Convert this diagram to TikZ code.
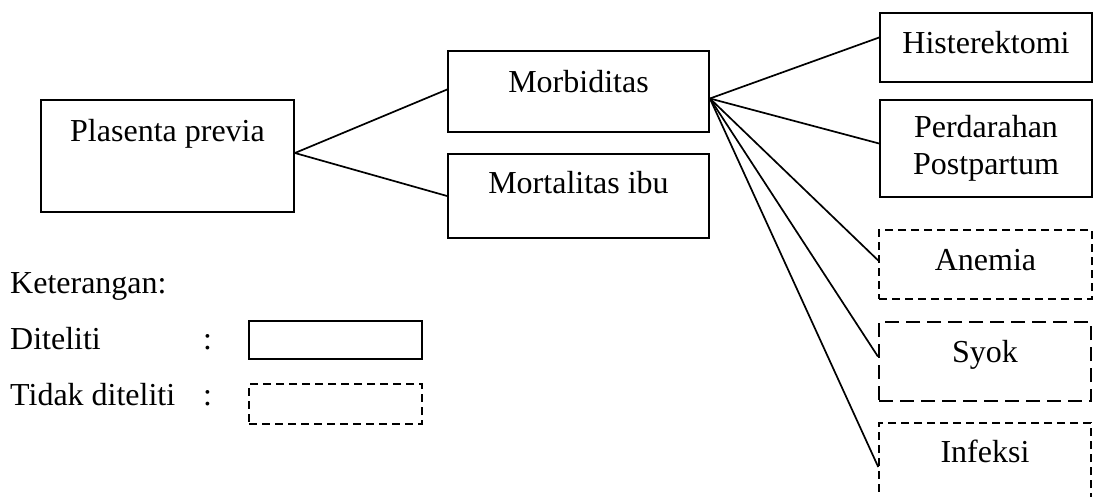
\documentclass[tikz,border=0pt]{standalone}
\usepackage{fontspec}
\setmainfont{Liberation Serif}
\newcommand{\tebal}{1.8pt}
\newcommand{\huruf}{\fontsize{32}{37}\selectfont}
\tikzset{
  teliti/.style={draw, line width=\tebal, inner sep=0pt, font=\huruf, align=center},
  takteliti/.style={teliti, line width=1.5pt, dash pattern=on 8pt off 5pt},
  baris/.style={text height=22pt, text depth=#1},
  tulisan/.style={font=\huruf, anchor=base west, inner sep=0pt},
  garis/.style={line width=1.7pt}
}
\begin{document}
\begin{tikzpicture}[x=1pt, y=-1pt]
        \useasboundingbox (0,0) rectangle (1097,496);
        %\fill[white] (0,0) rectangle (1097,496);
        \node[teliti, minimum width=253, minimum height=112, baris=52pt] (plasenta) at (167.5,156) {Plasenta previa};
        \node[teliti, minimum width=261, minimum height=81, baris=21pt] (morbid) at (578.5,91.5) {Morbiditas};
        \node[teliti, minimum width=261, minimum height=84, baris=28pt] (mortal) at (578.5,196) {Mortalitas ibu};
        \node[teliti, minimum width=212, minimum height=69, baris=11pt] (hister) at (986,47.5) {Histerektomi};
        \node[teliti, minimum width=212, minimum height=97] (perdarahan) at (986,148.5) {Perdarahan\\Postpartum};
        \node[takteliti, minimum width=213, minimum height=69, baris=11pt] (anemia) at (985.5,264.5) {Anemia};
        \node[takteliti, minimum width=212, minimum height=79, baris=21pt, line width=2.2pt, dash pattern=on 14pt off 7pt] (syok) at (985,361.5) {Syok};
        \node[takteliti, minimum width=212, minimum height=100, baris=44pt] (infeksi) at (985,473) {Infeksi};
        % keterangan
        \node[tulisan] (ket) at (10,293) {Keterangan:};
        \node[tulisan] (diteliti) at (10,349) {Diteliti};
        \node[tulisan] (tidak) at (10,405) {Tidak diteliti};
        \node[tulisan] (titikA) at (203,349) {:};
        \node[tulisan] (titikB) at (203,405) {:};
        \node[teliti, minimum width=173, minimum height=38] (contohA) at (335.5,340) {};
        \node[takteliti, minimum width=173, minimum height=40] (contohB) at (335.5,404) {};
        \draw[garis] ([yshift=3pt]plasenta.east) -- ([yshift=2pt]morbid.west);
        \draw[garis] ([yshift=3pt]plasenta.east) -- (mortal.west);
        \foreach \k/\g in {hister/10,perdarahan/5,anemia/4,syok/5,infeksi/6}
            \draw[garis] ([yshift=-7pt]morbid.east) -- ([yshift=\g pt]\k.west);
    \end{tikzpicture}
\end{document}
